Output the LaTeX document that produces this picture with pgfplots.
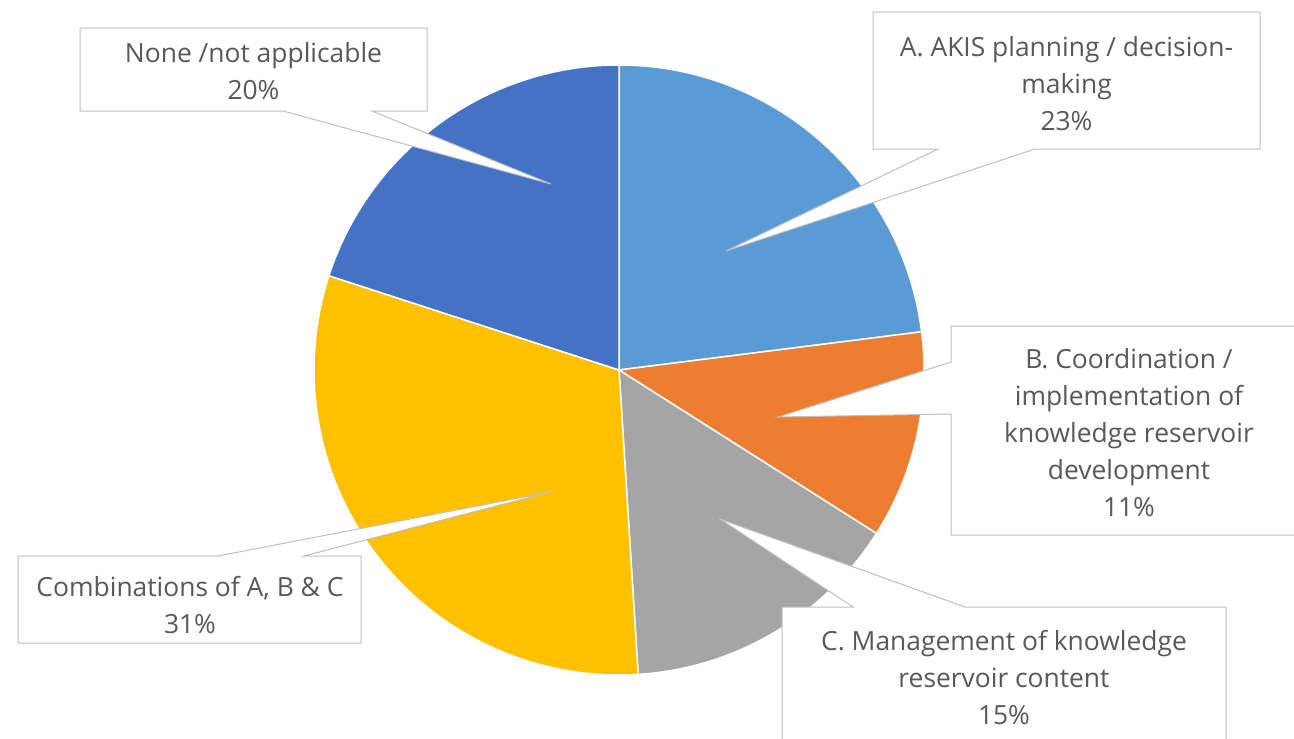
\documentclass[border=0pt]{standalone}
\usepackage{pgfplots}
\pgfplotsset{compat=1.18}
\usepackage{fontspec}
\setmainfont{Open Sans}
\definecolor{cA}{HTML}{5B9BD5}
\definecolor{cB}{HTML}{ED7D31}
\definecolor{cC}{HTML}{A5A5A5}
\definecolor{cD}{HTML}{FFC000}
\definecolor{cE}{HTML}{4472C4}
\definecolor{txt}{HTML}{595959}
\definecolor{bord}{HTML}{BFBFBF}
\begin{document}
\begin{tikzpicture}
\begin{axis}[width=1294pt,height=739pt,scale only axis,
  xmin=0,xmax=1294,ymin=0,ymax=739,y dir=reverse,hide axis,clip=true]
% pie slices (values in percent, clockwise from 12 o'clock)
\fill[cA,draw=white,line width=1.5pt] (axis cs:619,370) -- ++(90:305pt) arc[start angle=90,delta angle=-3.6*23,radius=305pt] -- cycle;
\fill[cB,draw=white,line width=1.5pt] (axis cs:619,370) -- ++({90-3.6*23}:305pt) arc[start angle={90-3.6*23},delta angle=-3.6*11,radius=305pt] -- cycle;
\fill[cC,draw=white,line width=1.5pt] (axis cs:619,370) -- ++({90-3.6*34}:305pt) arc[start angle={90-3.6*34},delta angle=-3.6*15,radius=305pt] -- cycle;
\fill[cD,draw=white,line width=1.5pt] (axis cs:619,370) -- ++({90-3.6*49}:305pt) arc[start angle={90-3.6*49},delta angle=-3.6*31,radius=305pt] -- cycle;
\fill[cE,draw=white,line width=1.5pt] (axis cs:619,370) -- ++({90-3.6*80}:305pt) arc[start angle={90-3.6*80},delta angle=-3.6*20,radius=305pt] -- cycle;
% callouts
\filldraw[fill=white,draw=bord,line width=1pt] (axis cs:80,28) -- (axis cs:427,28) -- (axis cs:427,111) -- (axis cs:372,111) -- (axis cs:551,184) -- (axis cs:283,111) -- (axis cs:80,111) -- cycle;
\filldraw[fill=white,draw=bord,line width=1pt] (axis cs:873,12) -- (axis cs:1260,12) -- (axis cs:1260,149) -- (axis cs:1035,149) -- (axis cs:726,251) -- (axis cs:938,149) -- (axis cs:873,149) -- cycle;
\filldraw[fill=white,draw=bord,line width=1pt] (axis cs:951,326) -- (axis cs:1320,326) -- (axis cs:1320,535) -- (axis cs:951,535) -- (axis cs:951,414) -- (axis cs:778,417) -- (axis cs:951,362) -- cycle;
\filldraw[fill=white,draw=bord,line width=1pt] (axis cs:782,607) -- (axis cs:853,607) -- (axis cs:720,519) -- (axis cs:965,607) -- (axis cs:1226,607) -- (axis cs:1226,780) -- (axis cs:782,780) -- cycle;
\filldraw[fill=white,draw=bord,line width=1pt] (axis cs:18,556) -- (axis cs:218,556) -- (axis cs:550,492) -- (axis cs:304,556) -- (axis cs:361,556) -- (axis cs:361,643) -- (axis cs:18,643) -- cycle;
% labels
\tikzset{lab/.style={align=center,text=txt,inner sep=0pt,font=\fontsize{26.4}{37}\selectfont}}
\node[lab] at (axis cs:253.5,71) {None /not applicable\\20\%};
\node[lab] at (axis cs:1066.5,84) {A. AKIS planning / decision-\\making\\23\%};
\node[lab] at (axis cs:1129,433) {B. Coordination /\\implementation of\\knowledge reservoir\\development\\11\%};
\node[lab] at (axis cs:1004,678) {C. Management of knowledge\\reservoir content\\15\%};
\node[lab] at (axis cs:190,605) {Combinations of A, B \& C\\31\%};
\end{axis}
\pgfresetboundingbox
\useasboundingbox (current axis.south west) rectangle (current axis.north east);
\end{tikzpicture}
\end{document}
